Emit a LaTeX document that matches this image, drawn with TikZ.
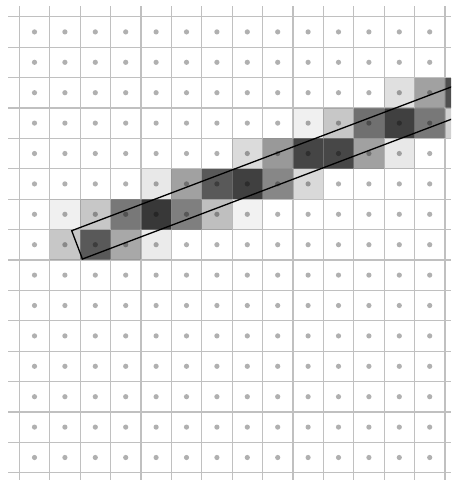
\documentclass[tikz,border=0pt]{standalone}
\definecolor{gridc}{HTML}{C0C0C0}
\definecolor{dotc}{HTML}{B0B0B0}
\tikzset{
  gridline/.style={draw=gridc, line width=1.2pt},
  gridtop/.style={draw=gridc, line width=1.2pt, draw opacity=0.4},
  dotmark/.style={fill=dotc},
  cellfill/.style={fill=black},
  footprint/.style={draw=black, line width=1.3pt, line join=miter}
}
\begin{document}
\begin{tikzpicture}[x=1pt,y=-1pt]
\useasboundingbox (0,0) rectangle (451,480);
\clip (0,0) rectangle (451,480);
\fill[white] (0,0) rectangle (451,480);
\def\ox{19.3}
\def\oy{16.7}
\def\cs{30.4}
% sample dots
\foreach \c in {0,...,13}
  \foreach \r in {0,...,14}
    \fill[dotmark] ({\ox+(\c+0.5)*\cs},{\oy+(\r+0.5)*\cs}) circle (2.6);
% grid
\foreach \k in {0,...,14}
  \draw[gridline] ({\ox+\k*\cs},6) -- ({\ox+\k*\cs},480);
\foreach \k in {0,...,15}
  \draw[gridline] (8,{\oy+\k*\cs}) -- (451,{\oy+\k*\cs});
% shaded cells
\foreach \c/\r/\a in {
  12/2/0.12, 13/2/0.37, 14/2/0.69,
  9/3/0.06, 10/3/0.22, 11/3/0.56, 12/3/0.75, 13/3/0.53, 14/3/0.18,
  7/4/0.14, 8/4/0.40, 9/4/0.73, 10/4/0.72, 11/4/0.37, 12/4/0.09,
  4/5/0.09, 5/5/0.37, 6/5/0.65, 7/5/0.75, 8/5/0.47, 9/5/0.15,
  1/6/0.06, 2/6/0.22, 3/6/0.53, 4/6/0.78, 5/6/0.50, 6/6/0.25, 7/6/0.05,
  1/7/0.22, 2/7/0.65, 3/7/0.34, 4/7/0.08}
  \fill[cellfill, fill opacity=\a] ({\ox+\c*\cs},{\oy+\r*\cs}) rectangle ++(\cs,\cs);
% grid again, faint, over the cells
\foreach \k in {0,...,14}
  \draw[gridtop] ({\ox+\k*\cs},6) -- ({\ox+\k*\cs},480);
\foreach \k in {0,...,15}
  \draw[gridtop] (8,{\oy+\k*\cs}) -- (451,{\oy+\k*\cs});
% line footprint rectangle
\coordinate (p1) at (71.7,230.7);
\coordinate (p2) at (82.44,259.03);
\coordinate (p3) at (503.2,99.6);
\coordinate (p4) at (492.5,71.3);
\draw[footprint] (p1) -- (p2) -- (p3) -- (p4) -- cycle;
\end{tikzpicture}
\end{document}
